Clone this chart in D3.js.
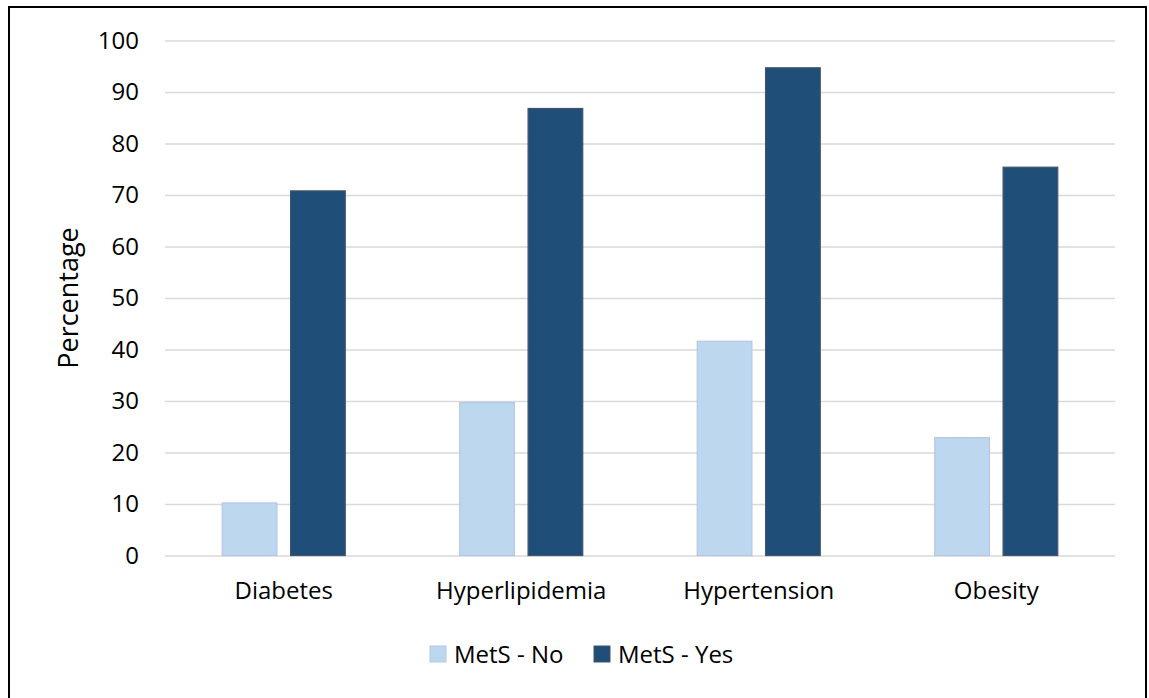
<!DOCTYPE html>
<html>
<head>
<meta charset="utf-8">
<script src="https://cdn.jsdelivr.net/npm/d3@7"></script>
<style>
  html, body { margin: 0; padding: 0; background: #fff; }
  svg { display: block; }
  text { font-family: "Open Sans", "Noto Sans", sans-serif; fill: #000; }
</style>
</head>
<body>
<svg id="chart" width="1149" height="698"></svg>
<script>
// Prevalence of conditions by metabolic syndrome status
const categories = ["Diabetes", "Hyperlipidemia", "Hypertension", "Obesity"];
const seriesNames = ["MetS - No", "MetS - Yes"];
const metsNo = [10.2, 29.7, 41.6, 22.9];
const metsYes = [70.8, 86.8, 94.7, 75.4];
const yTicks = [0, 10, 20, 30, 40, 50, 60, 70, 80, 90, 100];
const yLabel = "Percentage";

const fills = ["#bdd7ee", "#1f4e79"];
const strokes = ["#b4c7e7", "#44546a"];

const svg = d3.select("#chart");
const W = 1149, H = 698;
const margin = { left: 165, right: 34, top: 40.5, bottom: 142.5 };

// outer frame
svg.append("rect")
  .attr("x", 9).attr("y", 7)
  .attr("width", 1137).attr("height", 700)
  .attr("fill", "#fff").attr("stroke", "#000").attr("stroke-width", 2);

const x0 = d3.scaleBand()
  .domain(categories)
  .range([margin.left, W - margin.right])
  .paddingInner(0).paddingOuter(0);

const groupW = 123;
const x1 = d3.scaleBand()
  .domain(seriesNames)
  .range([0, groupW])
  .paddingInner(0.2);

const y = d3.scaleLinear()
  .domain([0, 100])
  .range([H - margin.bottom, margin.top]);

// gridlines and value ticks
const gAxisY = svg.append("g")
  .attr("transform", `translate(${margin.left},0)`)
  .call(d3.axisLeft(y).tickValues(yTicks).tickSize(-(W - margin.left - margin.right)).tickPadding(26).tickFormat(d3.format("d")));
gAxisY.select(".domain").remove();
gAxisY.selectAll(".tick line").attr("stroke", "#d9d9d9").attr("stroke-width", 1.5);
gAxisY.selectAll(".tick text")
  .style("font-size", "24px")
  .style("font-family", "'Open Sans', sans-serif")
  .attr("fill", "#000");

// bars
const rows = categories.map((c, i) => ({ cat: c, vals: [metsNo[i], metsYes[i]] }));
const groups = svg.append("g").selectAll("g")
  .data(rows).join("g")
  .attr("transform", d => `translate(${x0(d.cat) + (x0.bandwidth() - groupW) / 2},0)`);

groups.selectAll("rect")
  .data(d => d.vals.map((v, k) => ({ key: seriesNames[k], v, k })))
  .join("rect")
  .attr("x", d => x1(d.key))
  .attr("width", x1.bandwidth())
  .attr("y", d => y(d.v))
  .attr("height", d => y(0) - y(d.v))
  .attr("fill", d => fills[d.k])
  .attr("stroke", d => strokes[d.k])
  .attr("stroke-width", 1.2);

// category labels
const gAxisX = svg.append("g")
  .attr("transform", `translate(0,${y(0)})`)
  .call(d3.axisBottom(x0).tickSize(0).tickPadding(26));
gAxisX.select(".domain").remove();
gAxisX.selectAll(".tick text")
  .style("font-size", "24px")
  .style("font-family", "'Open Sans', sans-serif")
  .attr("fill", "#000");

// y axis title
svg.append("text")
  .attr("transform", `translate(78,${(y(0) + y(100)) / 2}) rotate(-90)`)
  .attr("text-anchor", "middle")
  .style("font-size", "27px")
  .text(yLabel);

// legend
const legend = svg.append("g").attr("transform", "translate(430,646)");
const legendX = [0, 164];
seriesNames.forEach((name, k) => {
  const g = legend.append("g").attr("transform", `translate(${legendX[k]},0)`);
  g.append("rect").attr("width", 16).attr("height", 16)
    .attr("fill", fills[k]).attr("stroke", strokes[k]).attr("stroke-width", 1);
  g.append("text").attr("x", 24).attr("y", 8).attr("dy", "0.36em")
    .style("font-size", "24px").text(name);
});
</script>
</body>
</html>
